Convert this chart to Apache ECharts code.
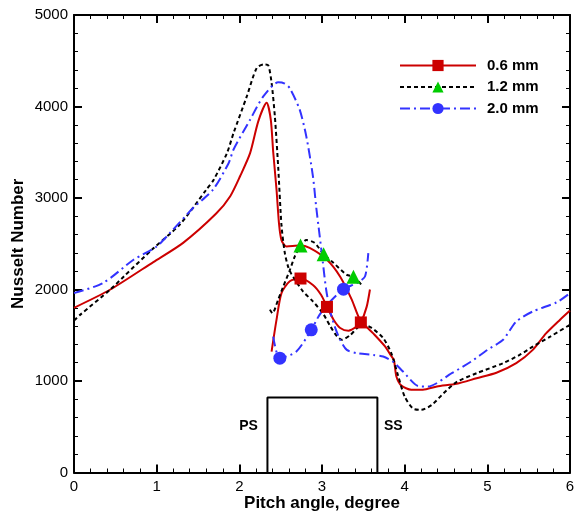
<!DOCTYPE html>
<html>
<head>
<meta charset="utf-8">
<script src="https://cdn.jsdelivr.net/npm/echarts@6/dist/echarts.min.js"></script>
<style>html,body{margin:0;padding:0;background:#fff;}#c{width:575px;height:520px;}</style>
</head>
<body>
<div id="c"></div>
<script>
// ---- data (pitch angle [deg], Nusselt number) ----
var xTicks = [0, 1, 2, 3, 4, 5, 6];
var yTicks = [0, 1000, 2000, 3000, 4000, 5000];
var seriesNames = ['0.6 mm', '1.2 mm', '2.0 mm'];

var red06Main = [[0,1800],[0.44,2000],[0.96,2300],[1.32,2510],[1.72,2830],[1.89,3020],[2.01,3240],[2.13,3490],[2.23,3840],[2.33,4040],[2.38,3860],[2.41,3500],[2.45,3090],[2.48,2720],[2.51,2540],[2.57,2470],[2.73,2480],[2.85,2455],[3.06,2325],[3.22,2140],[3.36,1890],[3.46,1670],[3.62,1520],[3.76,1380],[3.84,1270],[3.87,1230],[3.9,1050],[3.96,950],[4.08,905],[4.22,905],[4.39,940],[4.63,970],[4.87,1030],[5.11,1090],[5.35,1195],[5.55,1340],[5.71,1520],[5.88,1670],[6,1770]];
var red06Low = [[2.39,1320],[2.45,1670],[2.51,1960],[2.61,2090],[2.74,2120],[2.89,2050],[2.99,1940],[3.06,1810],[3.14,1670],[3.22,1580],[3.32,1550],[3.42,1595],[3.47,1640],[3.54,1810],[3.58,2000]];
var red06LowMarks = [4, 7, 12];

var black12Main = [[0,1660],[0.07,1720],[0.44,2000],[0.6,2140],[0.96,2450],[1.28,2710],[1.6,3090],[1.69,3200],[1.85,3490],[1.93,3710],[2.09,4110],[2.21,4420],[2.3,4460],[2.35,4450],[2.39,4260],[2.43,3890],[2.47,3340],[2.51,2700],[2.55,2400],[2.59,2250],[2.63,2170],[2.77,1980],[2.89,1870],[3.01,1740],[3.1,1600],[3.18,1490],[3.24,1450],[3.34,1500],[3.42,1575],[3.5,1615],[3.6,1580],[3.74,1470],[3.84,1300],[3.92,1060],[4.0,830],[4.1,700],[4.2,685],[4.33,740],[4.47,865],[4.63,990],[4.87,1085],[5.19,1195],[5.39,1285],[5.55,1375],[5.76,1485],[6,1615]];
var black12Up = [[2.37,1780],[2.4,1740],[2.47,1890],[2.53,2030],[2.61,2210],[2.67,2360],[2.74,2480],[2.81,2540],[2.91,2510],[3.02,2385],[3.14,2290],[3.3,2160],[3.38,2140],[3.48,2050]];
var black12UpMarks = [6, 9, 12];

var blue20Main = [[0,1960],[0.35,2070],[0.72,2325],[1.0,2470],[1.16,2617],[1.44,2890],[1.68,3090],[1.87,3380],[1.93,3530],[2.13,3856],[2.29,4110],[2.47,4265],[2.55,4250],[2.61,4200],[2.73,3966],[2.81,3674],[2.89,3240],[2.93,2900],[2.97,2600],[3.01,2300],[3.05,2000],[3.1,1760],[3.16,1580],[3.22,1450],[3.3,1340],[3.42,1304],[3.62,1285],[3.74,1267],[3.86,1210],[3.98,1103],[4.16,946],[4.28,939],[4.57,1085],[4.8,1210],[5.0,1340],[5.19,1450],[5.35,1650],[5.55,1760],[5.84,1860],[6,1960]];
var blue20Low = [[2.41,1486],[2.49,1250],[2.69,1322],[2.87,1559],[2.97,1723],[3.1,1869],[3.26,2004],[3.42,2070],[3.52,2142],[3.56,2398]];
var blue20LowMarks = [1, 3, 6];

var bladeX = [2.34, 3.67];
var bladeTop = 820;
var bladeLabels = ['PS', 'SS'];

// ---- build ----
function items(pts, marks) {
  return pts.map(function (p, i) {
    var it = { value: p };
    if (!marks || marks.indexOf(i) < 0) it.symbol = 'none';
    return it;
  });
}
var RED = '#cc0000', BLACK = '#000000', GREEN = '#00cc00', BLUE = '#3333ff';
var FONT = '"Liberation Sans", Arial, sans-serif';

function lineSeries(name, pts, marks, lineColor, dash, sym, symColor, symSize) {
  return {
    name: name, type: 'line', data: items(pts, marks),
    smooth: 0.25, showSymbol: true, symbol: sym, symbolSize: symSize,
    lineStyle: { color: lineColor, width: 2, type: dash },
    itemStyle: { color: symColor },
    z: 3, animation: false
  };
}

var bladePts = [[bladeX[0], 0], [bladeX[0], bladeTop], [bladeX[1], bladeTop], [bladeX[1], 0]];

var chart = echarts.init(document.getElementById('c'), null, { renderer: 'canvas' });

function axisCommon(pos, show) {
  return {
    type: 'value', position: pos,
    axisLine: { show: true, onZero: false, lineStyle: { color: '#000', width: 2 } },
    axisTick: { show: true, inside: true, length: 8, lineStyle: { color: '#000', width: 2 } },
    minorTick: { show: true, splitNumber: 5, length: 4, lineStyle: { color: '#000', width: 1 } },
    splitLine: { show: false },
    axisLabel: { show: show, color: '#000', fontSize: 15, fontFamily: FONT, formatter: function (v) { return String(v); } }
  };
}

var xa = axisCommon('bottom', true);
xa.min = xTicks[0]; xa.max = xTicks[xTicks.length - 1]; xa.interval = 1;
xa.name = 'Pitch angle, degree'; xa.nameLocation = 'middle'; xa.nameGap = 22; xa.nameMoveOverlap = false;
xa.nameTextStyle = { fontSize: 17, fontWeight: 'bold', color: '#000', fontFamily: FONT };
xa.axisLabel.margin = 7;
var xa2 = axisCommon('top', false);
xa2.min = xa.min; xa2.max = xa.max; xa2.interval = 1;

var ya = axisCommon('left', true);
ya.min = yTicks[0]; ya.max = yTicks[yTicks.length - 1]; ya.interval = 1000;
ya.name = 'Nusselt Number'; ya.nameLocation = 'middle'; ya.nameGap = 47; ya.nameMoveOverlap = false;
ya.nameTextStyle = { fontSize: 17, fontWeight: 'bold', color: '#000', fontFamily: FONT };
ya.axisLabel.margin = 6;
var ya2 = axisCommon('right', false);
ya2.min = ya.min; ya2.max = ya.max; ya2.interval = 1000;

var option = {
  backgroundColor: '#fff',
  animation: false,
  grid: { left: 74, right: 5, top: 15, bottom: 47.5, containLabel: false, outerBoundsMode: 'none' },
  xAxis: [xa, xa2],
  yAxis: [ya, ya2],
  legend: {
    data: seriesNames, orient: 'vertical', left: 399, top: 58, padding: 0,
    itemWidth: 76, itemHeight: 14, itemGap: 6.5,
    textStyle: { fontSize: 15, fontWeight: 'bold', color: '#000', fontFamily: FONT, padding: [0, 0, 0, 6] }
  },
  series: [
    {
      name: 'blade', type: 'line', data: bladePts, symbol: 'none', silent: true,
      lineStyle: { color: '#000', width: 2 }, z: 2,
      markPoint: {
        symbol: 'rect', symbolSize: 1, silent: true, itemStyle: { color: 'rgba(0,0,0,0)' },
        label: { show: true, color: '#000', fontSize: 14, fontWeight: 'bold', fontFamily: FONT },
        data: [
          { coord: [bladeX[0], bladeTop * 0.6], value: bladeLabels[0], label: { formatter: bladeLabels[0], position: 'left', offset: [-4, -1] } },
          { coord: [bladeX[1], bladeTop * 0.6], value: bladeLabels[1], label: { formatter: bladeLabels[1], position: 'right', offset: [1, -1] } }
        ]
      }
    },
    lineSeries(seriesNames[0], red06Main, null, RED, 'solid', 'rect', RED, 12),
    lineSeries(seriesNames[0], red06Low, red06LowMarks, RED, 'solid', 'rect', RED, 12),
    lineSeries(seriesNames[1], black12Main, null, BLACK, [4, 3], 'triangle', GREEN, 14),
    lineSeries(seriesNames[1], black12Up, black12UpMarks, BLACK, [4, 3], 'triangle', GREEN, 14),
    lineSeries(seriesNames[2], blue20Main, null, BLUE, [10, 4, 2, 4], 'circle', BLUE, 13),
    lineSeries(seriesNames[2], blue20Low, blue20LowMarks, BLUE, [10, 4, 2, 4], 'circle', BLUE, 13)
  ]
};
chart.setOption(option);
</script>
</body>
</html>
